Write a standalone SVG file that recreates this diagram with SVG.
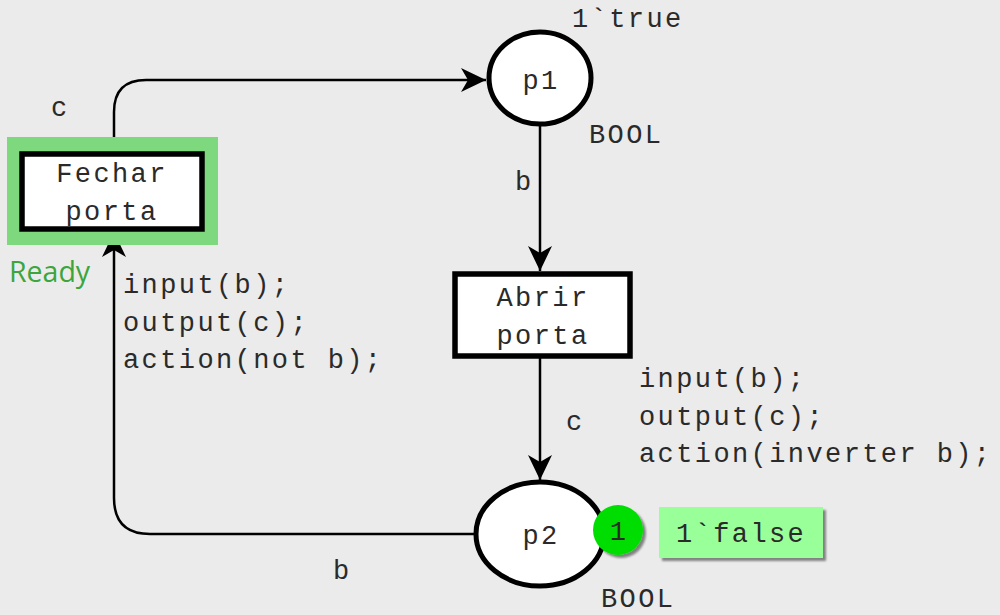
<svg xmlns="http://www.w3.org/2000/svg" width="1000" height="615" viewBox="0 0 1000 615">
<defs>
<style>
.bg{fill:#ebebeb}
.place{fill:#ffffff;stroke:#000;stroke-width:5}
.trans{fill:#ffffff;stroke:#000;stroke-width:5.5}
.arc{fill:none;stroke:#000;stroke-width:2.5}
.t{font-family:"Liberation Mono","Courier New",monospace;font-size:27px;letter-spacing:2.4px;fill:#2a2a2a}
.mid{text-anchor:middle}
.ready{font-family:"Open Sans","Noto Sans",sans-serif;font-size:28.5px;fill:#3ca53c}
</style>
<marker id="ah" markerUnits="userSpaceOnUse" markerWidth="30" markerHeight="30" viewBox="-27 -14 30 28" refX="0" refY="0" orient="auto">
<path d="M0,0 L-25,-12 L-18,0 L-25,12 z" fill="#000"/>
</marker>
<filter id="sh" x="-20%" y="-20%" width="150%" height="150%">
<feGaussianBlur in="SourceAlpha" stdDeviation="1.2"/>
<feOffset dx="3" dy="3" result="o"/>
<feComponentTransfer><feFuncA type="linear" slope="0.45"/></feComponentTransfer>
<feMerge><feMergeNode/><feMergeNode in="SourceGraphic"/></feMerge>
</filter>
</defs>
<rect class="bg" x="0" y="0" width="1000" height="615"/>

<g id="connectors">
<path class="arc" d="M114,152 L114,112 Q114,80 146,80 L486,80" marker-end="url(#ah)"/>
<path class="arc" d="M540,125 L540,271" marker-end="url(#ah)"/>
<path class="arc" d="M540,358 L540,480" marker-end="url(#ah)"/>
<path class="arc" d="M476,534 L150,534 Q114,534 114,498 L114,232" marker-end="url(#ah)"/>
<text class="t" x="51" y="116">c</text>
<text class="t" x="515" y="190">b</text>
<text class="t" x="566" y="430">c</text>
<text class="t" x="333" y="579">b</text>
</g>

<g id="fechar-porta">
<rect x="7" y="137" width="211" height="108" fill="#7ed87e"/>
<rect class="trans" x="22" y="154" width="180" height="75"/>
<text class="t mid" x="112" y="182">Fechar</text>
<text class="t mid" x="112" y="220">porta</text>
<text class="ready" x="9" y="282">Ready</text>
<text class="t" x="123" y="293">input(b);</text>
<text class="t" x="123" y="331">output(c);</text>
<text class="t" x="123" y="368">action(not b);</text>
</g>

<g id="p1">
<ellipse class="place" cx="540" cy="78" rx="51" ry="46"/>
<text class="t mid" x="541" y="89">p1</text>
<text class="t" x="572" y="27">1`true</text>
<text class="t" x="589" y="143">BOOL</text>
</g>

<g id="abrir-porta">
<rect class="trans" x="455" y="274" width="175" height="82"/>
<text class="t mid" x="543" y="306">Abrir</text>
<text class="t mid" x="543" y="344">porta</text>
<text class="t" x="639" y="387">input(b);</text>
<text class="t" x="639" y="425">output(c);</text>
<text class="t" x="639" y="462">action(inverter b);</text>
</g>

<g id="p2">
<ellipse class="place" cx="540" cy="534" rx="64" ry="52"/>
<text class="t mid" x="541" y="544">p2</text>
<circle cx="618" cy="530" r="25" fill="#00dd00" filter="url(#sh)"/>
<text class="t mid" x="619" y="540">1</text>
<rect x="659" y="507" width="164" height="51" fill="#99ff99" filter="url(#sh)"/>
<text class="t" x="676" y="542">1`false</text>
<text class="t" x="601" y="607">BOOL</text>
</g>
</svg>
